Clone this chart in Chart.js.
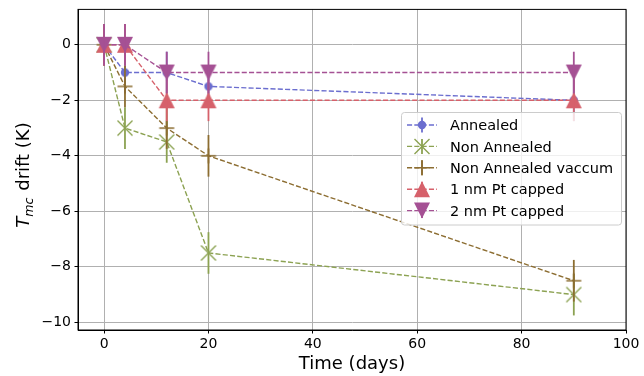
<!DOCTYPE html>
<html>
<head>
<meta charset="utf-8">
<script src="https://cdn.jsdelivr.net/npm/chart.js@4/dist/chart.umd.min.js"></script>
<style>
  html, body { margin: 0; padding: 0; background: #fff; }
  #wrap { width: 644px; height: 376px; }
</style>
</head>
<body>
<div id="wrap"><canvas id="drift"></canvas></div>
<script>
// ---- data ----
const days = [0, 4, 12, 20, 90];
const annealed = [0, -1, -1, -1.5, -2];
const nonAnnealed = [0, -3, -3.5, -7.5, -9];
const nonAnnealedVac = [0, -1.5, -3, -4, -8.5];
const pt1nm = [0, 0, -2, -2, -2];
const pt2nm = [0, 0, -1, -1, -1];
const yErr = [0.75, 0.75, 0.75, 0.75, 0.75];

const xTicks = [0, 20, 40, 60, 80, 100];
const yTicks = [-10, -8, -6, -4, -2, 0];

const FONT = '"DejaVu Sans", sans-serif';

const seriesDefs = [
  { label: 'Annealed', data: annealed, color: '#6b6ecf', marker: 'circle' },
  { label: 'Non Annealed', data: nonAnnealed, color: '#8ca252', marker: 'x' },
  { label: 'Non Annealed vaccum', data: nonAnnealedVac, color: '#8c6d31', marker: 'plus' },
  { label: '1 nm Pt capped', data: pt1nm, color: '#d6616b', marker: 'triUp' },
  { label: '2 nm Pt capped', data: pt2nm, color: '#a55194', marker: 'triDown' }
];

// matplotlib-like marker shapes
function drawMarker(ctx, kind, x, y, color) {
  ctx.save();
  ctx.fillStyle = color;
  ctx.strokeStyle = color;
  ctx.lineWidth = 1.4;
  ctx.beginPath();
  if (kind === 'circle') {
    ctx.arc(x, y, 4.2, 0, Math.PI * 2);
    ctx.fill();
  } else if (kind === 'x') {
    const a = 7.5;
    ctx.moveTo(x - a, y - a); ctx.lineTo(x + a, y + a);
    ctx.moveTo(x - a, y + a); ctx.lineTo(x + a, y - a);
    ctx.stroke();
  } else if (kind === 'plus') {
    const a = 7.5;
    ctx.moveTo(x - a, y); ctx.lineTo(x + a, y);
    ctx.moveTo(x, y - a); ctx.lineTo(x, y + a);
    ctx.stroke();
  } else if (kind === 'triUp' || kind === 'triDown') {
    const s = kind === 'triUp' ? 1 : -1;
    const h = 8;
    ctx.moveTo(x, y - s * h);
    ctx.lineTo(x - h, y + s * h);
    ctx.lineTo(x + h, y + s * h);
    ctx.closePath();
    ctx.fill();
  }
  ctx.restore();
}

function markerCanvas(kind, color) {
  const c = document.createElement('canvas');
  c.width = 20; c.height = 20;
  drawMarker(c.getContext('2d'), kind, 10, 10, color);
  return c;
}

const datasets = seriesDefs.map((s, i) => ({
  label: s.label,
  data: days.map((d, j) => ({ x: d, y: s.data[j] })),
  borderColor: s.color,
  backgroundColor: s.color,
  borderWidth: 1.4,
  borderDash: [5.1, 2.2],
  pointStyle: markerCanvas(s.marker, s.color),
  pointRadius: 8,
  pointHoverRadius: 8,
  tension: 0,
  fill: false,
  order: seriesDefs.length - 1 - i,
  marker: s.marker
}));

/**
 * Vertical error bars, drawn right after each dataset so later series sit on top
 */
const errorBarPlugin = {
  id: 'errorBars',
  afterDatasetDraw(chart, args) {
    const { ctx, scales } = chart;
    const ds = chart.data.datasets[args.index];
    ctx.save();
    ctx.strokeStyle = ds.borderColor;
    ctx.lineWidth = 1.8;
    ds.data.forEach((p, j) => {
      const px = scales.x.getPixelForValue(p.x);
      const top = scales.y.getPixelForValue(p.y + yErr[j]);
      const bot = scales.y.getPixelForValue(p.y - yErr[j]);
      ctx.beginPath();
      ctx.moveTo(px, top);
      ctx.lineTo(px, bot);
      ctx.stroke();
    });
    ctx.restore();
  }
};

/**
 * Frame, axis titles and a matplotlib style legend
 */
const decorPlugin = {
  id: 'decor',
  afterDraw(chart) {
    const { ctx, chartArea: a } = chart;
    ctx.save();

    // full box spines
    ctx.strokeStyle = '#000';
    ctx.lineWidth = 1;
    ctx.strokeRect(a.left, a.top, a.right - a.left, a.bottom - a.top);

    // x title
    ctx.fillStyle = '#000';
    ctx.font = '18px ' + FONT;
    ctx.textAlign = 'center';
    ctx.textBaseline = 'alphabetic';
    ctx.fillText('Time (days)', (a.left + a.right) / 2, 369);

    // y title: T_mc drift (K)
    ctx.save();
    ctx.translate(29, 175);
    ctx.rotate(-Math.PI / 2);
    ctx.textAlign = 'left';
    const big = '18px ' + FONT, bigI = 'italic 18px ' + FONT, subI = 'italic 12.6px ' + FONT;
    ctx.font = bigI; const wT = ctx.measureText('T').width;
    ctx.font = subI; const wS = ctx.measureText('mc').width;
    ctx.font = big; const wR = ctx.measureText(' drift (K)').width;
    let x0 = -(wT + wS + 1 + wR) / 2;
    ctx.font = bigI; ctx.fillText('T', x0, 0); x0 += wT;
    ctx.font = subI; ctx.fillText('mc', x0, 3.8); x0 += wS + 1;
    ctx.font = big; ctx.fillText(' drift (K)', x0, 0);
    ctx.restore();

    // legend
    const lx = 401.5, ly = 112.5, lw = 220, lh = 112.5, r = 3;
    ctx.beginPath();
    ctx.moveTo(lx + r, ly);
    ctx.arcTo(lx + lw, ly, lx + lw, ly + lh, r);
    ctx.arcTo(lx + lw, ly + lh, lx, ly + lh, r);
    ctx.arcTo(lx, ly + lh, lx, ly, r);
    ctx.arcTo(lx, ly, lx + lw, ly, r);
    ctx.closePath();
    ctx.fillStyle = 'rgba(255,255,255,0.8)';
    ctx.fill();
    ctx.strokeStyle = '#cccccc';
    ctx.lineWidth = 1;
    ctx.stroke();

    ctx.font = '14.5px ' + FONT;
    ctx.textAlign = 'left';
    chart.data.datasets.forEach((ds, i) => {
      const cy = 125 + 21.4 * i;
      ctx.save();
      ctx.strokeStyle = ds.borderColor;
      ctx.lineWidth = 1.4;
      ctx.setLineDash([5.1, 2.2]);
      ctx.beginPath();
      ctx.moveTo(407, cy); ctx.lineTo(437, cy);
      ctx.stroke();
      ctx.restore();
      drawMarker(ctx, ds.marker, 422, cy, ds.borderColor);
      ctx.save();
      ctx.strokeStyle = ds.borderColor;
      ctx.lineWidth = 1.8;
      ctx.beginPath();
      ctx.moveTo(422, cy - 7.5); ctx.lineTo(422, cy + 7.5);
      ctx.stroke();
      ctx.restore();
      ctx.fillStyle = '#000';
      ctx.fillText(ds.label, 450, cy + 5.2);
    });

    ctx.restore();
  }
};

const fmt = v => (v < 0 ? '\u2212' + Math.abs(v) : String(v));

new Chart(document.getElementById('drift').getContext('2d'), {
  type: 'line',
  data: { datasets },
  options: {
    responsive: true,
    maintainAspectRatio: false,
    animation: false,
    layout: { padding: { left: 0, right: 18, top: 8, bottom: 0 } },
    scales: {
      x: {
        type: 'linear',
        min: -5,
        max: 100,
        afterBuildTicks: s => { s.ticks = xTicks.map(v => ({ value: v })); },
        afterFit: s => { s.height = 46; s.paddingLeft = 0; s.paddingRight = 0; },
        ticks: { color: '#000', font: { family: FONT, size: 14 }, padding: 2, callback: fmt, maxRotation: 0, autoSkip: false },
        grid: { color: '#b0b0b0', lineWidth: 1, tickColor: '#000', tickLength: 3.5 },
        border: { display: true, color: '#000', width: 1 }
      },
      y: {
        type: 'linear',
        min: -10.275,
        max: 1.275,
        afterBuildTicks: s => { s.ticks = yTicks.map(v => ({ value: v })); },
        afterFit: s => { s.width = 78; s.paddingTop = 0; s.paddingBottom = 0; },
        ticks: { color: '#000', font: { family: FONT, size: 14 }, padding: 3.5, callback: fmt, autoSkip: false },
        grid: { color: '#b0b0b0', lineWidth: 1, tickColor: '#000', tickLength: 3.5 },
        border: { display: true, color: '#000', width: 1 }
      }
    },
    plugins: {
      legend: { display: false },
      tooltip: { enabled: false }
    }
  },
  plugins: [errorBarPlugin, decorPlugin]
});
</script>
</body>
</html>
